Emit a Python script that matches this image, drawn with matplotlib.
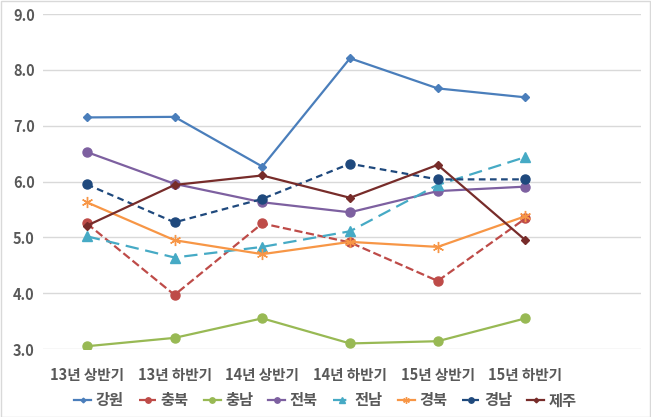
import matplotlib
matplotlib.use("Agg")
import matplotlib.pyplot as plt
from matplotlib.patches import Rectangle

plt.rcParams['font.family'] = ['Noto Sans CJK KR', 'DejaVu Sans']

periods = ['13년 상반기', '13년 하반기', '14년 상반기', '14년 하반기', '15년 상반기', '15년 하반기']
gangwon = [7.15, 7.16, 6.27, 8.21, 7.67, 7.51]
chungbuk = [5.25, 3.97, 5.25, 4.91, 4.22, 5.34]
chungnam = [3.05, 3.2, 3.55, 3.1, 3.14, 3.55]
jeonbuk = [6.53, 5.96, 5.63, 5.45, 5.83, 5.91]
jeonnam = [5.02, 4.64, 4.83, 5.11, 5.94, 6.44]
gyeongbuk = [5.63, 4.95, 4.7, 4.92, 4.83, 5.38]
gyeongnam = [5.95, 5.27, 5.69, 6.32, 6.04, 6.04]
jeju = [5.21, 5.94, 6.11, 5.71, 6.3, 4.95]

series = [
    ('강원', gangwon, '#4A7EBB', '-', 'D', 4),
    ('충북', chungbuk, '#BE4B48', '--', 'o', 6.5),
    ('충남', chungnam, '#98B954', '-', 'o', 6.5),
    ('전북', jeonbuk, '#7D60A0', '-', 'o', 6.5),
    ('전남', jeonnam, '#46AAC5', (0, (6, 3)), '^', 6.5),
    ('경북', gyeongbuk, '#F79646', '-', (6, 2, 0), 8),
    ('경남', gyeongnam, '#1F497D', (0, (3, 2)), 'o', 6.5),
    ('제주', jeju, '#772C2A', '-', 'D', 4),
]

fig = plt.figure(figsize=(6.51, 4.17), dpi=100)
ax = fig.add_axes([0.066, 0.163, 0.919, 0.803])

x = list(range(len(periods)))
for name, vals, color, ls, mk, ms in series:
    ax.plot(x, vals, color=color, linestyle=ls, linewidth=1.6, marker=mk,
            markersize=ms, markeredgecolor=color, markerfacecolor=color, label=name)

ax.set_xlim(-0.5, 6.32)
ax.set_ylim(3.0, 9.0)
ax.set_yticks([3, 4, 5, 6, 7, 8, 9])
ax.set_yticklabels(['%.1f' % v for v in [3, 4, 5, 6, 7, 8, 9]])
ax.set_xticks(x)
ax.set_xticklabels(periods)
ax.yaxis.grid(True, color='#D9D9D9', linewidth=1)
ax.set_axisbelow(True)
for s in ax.spines.values():
    s.set_visible(False)
ax.tick_params(length=0, labelsize=10.5, labelcolor='#595959')
ax.tick_params(axis='x', pad=13)
ax.tick_params(axis='y', pad=6)
for lbl in ax.get_xticklabels() + ax.get_yticklabels():
    lbl.set_fontweight('bold')

leg = fig.legend(loc='center', bbox_to_anchor=(0.5, 0.04), ncol=8, frameon=False,
                 handlelength=1.1, handletextpad=0.3, columnspacing=1.0,
                 markerscale=0.6, prop={'size': 11, 'weight': 'bold'})
for t in leg.get_texts():
    t.set_color('#595959')

fig.patches.append(Rectangle((0.001, 0.001), 0.997, 0.997, transform=fig.transFigure,
                             fill=False, edgecolor='#D9D9D9', linewidth=1))

fig.savefig('out.png', dpi=100)
